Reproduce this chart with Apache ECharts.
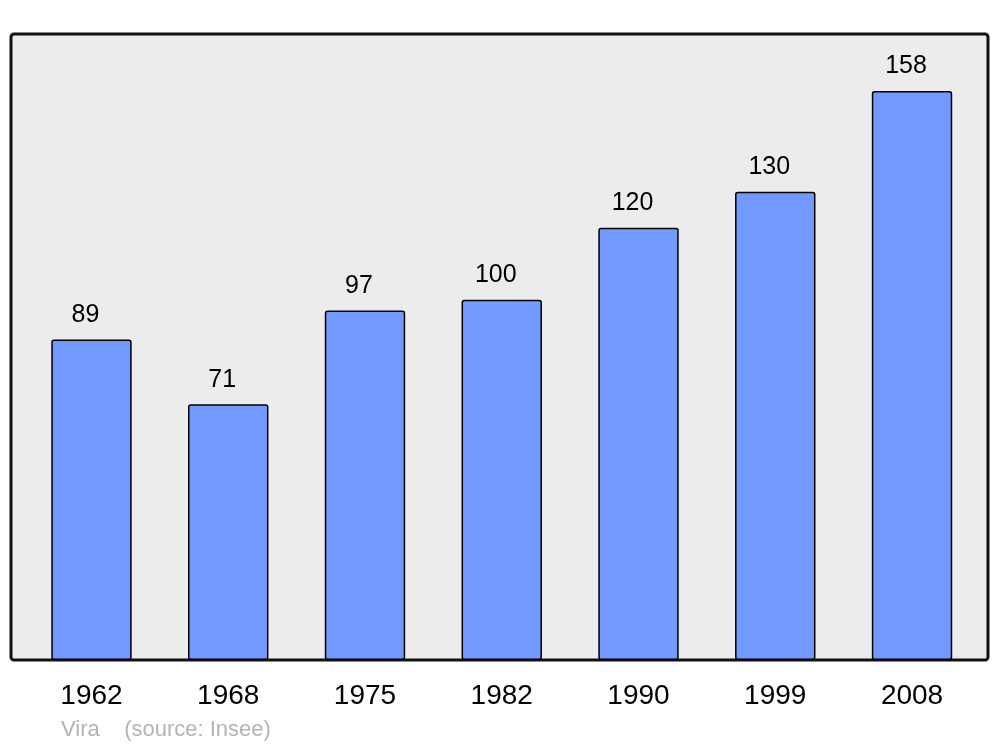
<!DOCTYPE html>
<html><head><meta charset="utf-8">
<script src="https://cdn.jsdelivr.net/npm/echarts@6/dist/echarts.min.js"></script>
<style>html,body{margin:0;padding:0;background:#fff}#c{width:1000px;height:747px}</style>
</head><body><div id="c"></div>
<script>
const years = ['1962','1968','1975','1982','1990','1999','2008'];
const population = [89, 71, 97, 100, 120, 130, 158];
const sourceText = 'Vira    (source: Insee)';

const chart = echarts.init(document.getElementById('c'), null, {renderer:'canvas'});
chart.setOption({
  animation: false,
  backgroundColor: '#ffffff',
  textStyle: {fontFamily: 'Liberation Sans, Arial, sans-serif'},
  graphic: [
    {type:'rect', z:-10, shape:{x:11, y:34, width:977, height:626, r:3},
     style:{fill:'#ececec', stroke:'#111111', lineWidth:3}},
    {type:'text', left:61, top:719,
     style:{text: sourceText, fill:'#b4b4b4', font:'22px "Liberation Sans", Arial, sans-serif'}}
  ],
  grid: {left:23.1, right:19.6, top:34, bottom:87, containLabel:false},
  xAxis: {
    type:'category', data: years,
    axisLine:{show:false}, axisTick:{show:false},
    axisLabel:{color:'#000', fontSize:28, margin:22, fontFamily:'Liberation Sans, Arial, sans-serif'}
  },
  yAxis: {
    type:'value', min:0, max:173.8, show:false, splitLine:{show:false}
  },
  series: [{
    type:'bar', data: population, barWidth:'58.8%', z:2,
    itemStyle:{color:'#7299ff', borderColor:'#000', borderWidth:1.5, borderRadius:2},
    label:{show:true, position:'top', distance:12, offset:[-6,0], color:'#000', fontSize:25,
      fontFamily:'Liberation Sans, Arial, sans-serif'}
  }]
});
</script></body></html>
